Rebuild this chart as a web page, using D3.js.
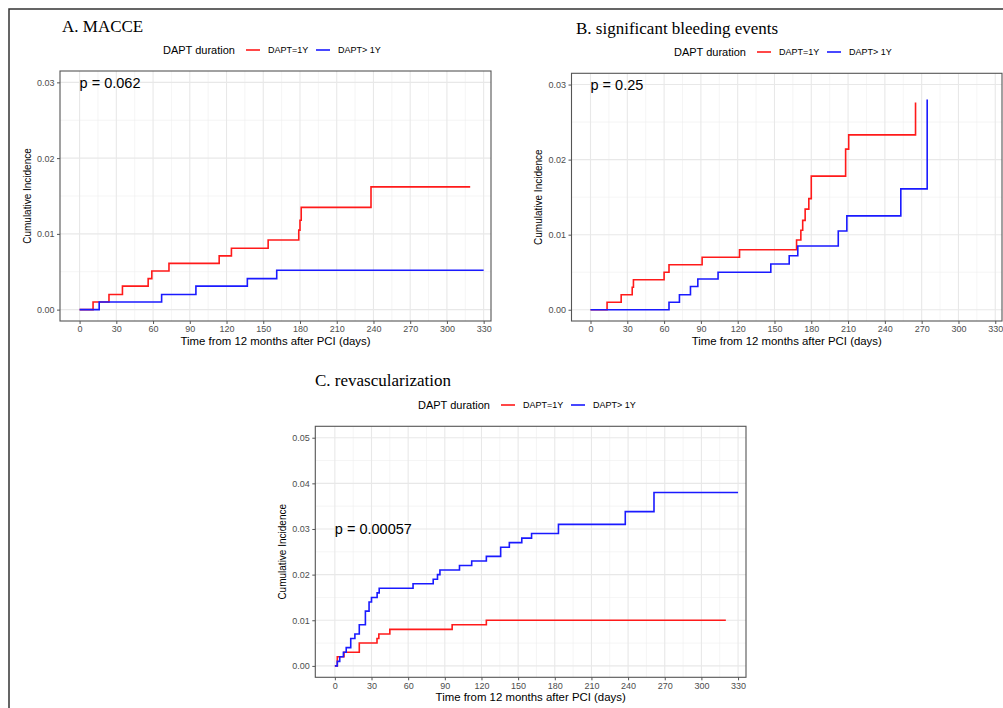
<!DOCTYPE html>
<html lang="en">
<head>
  <meta charset="utf-8">
  <title>Cumulative incidence by DAPT duration</title>
  <script src="https://d3js.org/d3.v7.min.js"></script>
  <style>
    html, body { margin: 0; padding: 0; background: #fff; }
    svg { display: block; }
    text { font-family: "Liberation Sans", Arial, sans-serif; fill: #000; }
    .title { font-family: "Liberation Serif", "Times New Roman", serif; font-size: 17px; }
    .tick-label { fill: #4d4d4d; font-size: 9px; }
  </style>
</head>
<body>
  <svg width="1003" height="708"></svg>
  <script>
    // legend groups and tick labels
    const groups = ["DAPT=1Y", "DAPT> 1Y"];
    const groupColors = ["#ff1a1a", "#1a1aff"];
    const dayTicks = [0, 30, 60, 90, 120, 150, 180, 210, 240, 270, 300, 330];
    const incTicksAB = [0, 0.01, 0.02, 0.03];
    const incTicksC = [0, 0.01, 0.02, 0.03, 0.04, 0.05];

    // A. MACCE
    const macceDays1 = [0, 11, 24, 35, 56, 59, 73, 114, 124, 154, 179, 180, 181, 238, 319];
    const macceInc1  = [0, 0.001, 0.002, 0.0031, 0.0041, 0.0051, 0.0061, 0.0071, 0.0081, 0.0092, 0.0105, 0.0118, 0.0135, 0.0162, 0.0162];
    const macceDays2 = [0, 16, 67, 95, 137, 161, 330];
    const macceInc2  = [0, 0.001, 0.002, 0.0031, 0.0041, 0.0052, 0.0052];

    // B. significant bleeding events
    const bleedDays1 = [0, 13.5, 25, 34, 35, 60, 64, 91, 121.5, 168, 171.5, 173, 175, 178, 180, 208, 210.5, 265];
    const bleedInc1  = [0, 0.001, 0.002, 0.003, 0.004, 0.005, 0.006, 0.007, 0.008, 0.0093, 0.0106, 0.0119, 0.0134, 0.0148, 0.0178, 0.0214, 0.0233, 0.0276];
    const bleedDays2 = [0, 64, 72.5, 81.5, 87.5, 104, 147, 162, 169, 202, 209, 253, 274.5];
    const bleedInc2  = [0, 0.001, 0.002, 0.0031, 0.0041, 0.005, 0.0061, 0.0072, 0.0085, 0.0105, 0.0125, 0.0161, 0.028];

    // C. revascularization
    const revascDays1 = [0, 2, 7.5, 20, 34.5, 36, 45, 96, 124, 320];
    const revascInc1  = [0, 0.002, 0.003, 0.005, 0.006, 0.007, 0.008, 0.009, 0.010, 0.010];
    const revascDays2 = [0, 2, 4, 7, 9.3, 13, 16.4, 20, 25, 28, 30, 34.6, 36.3, 64, 80.5, 84, 86, 102, 112, 124, 135.7, 142.8, 153, 161, 183, 237.7, 261.2, 330];
    const revascInc2  = [0, 0.001, 0.002, 0.003, 0.004, 0.006, 0.007, 0.009, 0.012, 0.014, 0.015, 0.016, 0.017, 0.018, 0.019, 0.020, 0.021, 0.022, 0.023, 0.024, 0.026, 0.027, 0.028, 0.029, 0.031, 0.0338, 0.038, 0.038];

    const svg = d3.select("svg");

    // outer frame of the figure
    svg.append("rect")
      .attr("x", 9).attr("y", 9).attr("width", 1100).attr("height", 800)
      .attr("fill", "none").attr("stroke", "#333").attr("stroke-width", 1.5);

    const panels = [
      { title: "A. MACCE", titleX: 62, titleY: 32, legX: 163, legY: 50,
        left: 60, right: 491, top: 71, bottom: 321,
        xDomain: [-16, 336], yDomain: [-0.0015, 0.0315], yTicks: incTicksAB,
        pText: "p = 0.062", pAt: 0.03,
        series: [[macceDays1, macceInc1], [macceDays2, macceInc2]] },
      { title: "B. significant bleeding events", titleX: 576, titleY: 34, legX: 674, legY: 52,
        left: 571.5, right: 1002, top: 73.3, bottom: 321,
        xDomain: [-15.5, 335.5], yDomain: [-0.0015, 0.0315], yTicks: incTicksAB,
        pText: "p = 0.25", pAt: 0.03,
        series: [[bleedDays1, bleedInc1], [bleedDays2, bleedInc2]] },
      { title: "C. revascularization", titleX: 315, titleY: 386, legX: 418, legY: 405,
        left: 315.3, right: 746, top: 426.3, bottom: 677.3,
        xDomain: [-16, 336.5], yDomain: [-0.0025, 0.0525], yTicks: incTicksC,
        pText: "p = 0.00057", pAt: 0.03,
        series: [[revascDays1, revascInc1], [revascDays2, revascInc2]] }
    ];

    const fmt = d3.format(".2f");

    panels.forEach(p => {
      const g = svg.append("g");
      const x = d3.scaleLinear().domain(p.xDomain).range([p.left, p.right]);
      const y = d3.scaleLinear().domain(p.yDomain).range([p.bottom, p.top]);

      // title
      g.append("text").attr("class", "title")
        .attr("x", p.titleX).attr("y", p.titleY).text(p.title);

      // legend
      const leg = g.append("g").attr("transform", `translate(${p.legX},${p.legY})`);
      leg.append("text").attr("dy", "0.35em").style("font-size", "11px").text("DAPT duration");
      groups.forEach((name, i) => {
        const off = i * 70;
        leg.append("line")
          .attr("x1", 83 + off).attr("x2", 97 + off).attr("y1", 0).attr("y2", 0)
          .attr("stroke", groupColors[i]).attr("stroke-width", 1.6);
        leg.append("text").attr("x", 105 + off).attr("dy", "0.35em")
          .style("font-size", "9px").text(name);
      });

      // grid
      const xMinor = dayTicks.map(d => d + 15).filter(d => d < p.xDomain[1]);
      const yMinor = p.yTicks.map(d => d + 0.005).filter(d => d < p.yDomain[1]);
      g.append("rect")
        .attr("x", p.left).attr("y", p.top)
        .attr("width", p.right - p.left).attr("height", p.bottom - p.top)
        .attr("fill", "#fff");
      g.selectAll(".xminor").data(xMinor).join("line")
        .attr("x1", d => x(d)).attr("x2", d => x(d)).attr("y1", p.top).attr("y2", p.bottom)
        .attr("stroke", "#efefef").attr("stroke-width", 0.6);
      g.selectAll(".yminor").data(yMinor).join("line")
        .attr("y1", d => y(d)).attr("y2", d => y(d)).attr("x1", p.left).attr("x2", p.right)
        .attr("stroke", "#efefef").attr("stroke-width", 0.6);
      g.selectAll(".xmajor").data(dayTicks).join("line")
        .attr("x1", d => x(d)).attr("x2", d => x(d)).attr("y1", p.top).attr("y2", p.bottom)
        .attr("stroke", "#e8e8e8").attr("stroke-width", 1.1);
      g.selectAll(".ymajor").data(p.yTicks).join("line")
        .attr("y1", d => y(d)).attr("y2", d => y(d)).attr("x1", p.left).attr("x2", p.right)
        .attr("stroke", "#e8e8e8").attr("stroke-width", 1.1);

      // curves
      const line = d3.line()
        .x(d => x(d[0])).y(d => y(d[1]))
        .curve(d3.curveStepAfter);
      p.series.forEach((s, i) => {
        const pts = s[0].map((t, k) => [t, s[1][k]]);
        g.append("path").datum(pts)
          .attr("d", line)
          .attr("fill", "none")
          .attr("stroke", groupColors[i])
          .attr("stroke-width", 1.6);
      });

      // p value annotation
      g.append("text")
        .attr("x", x(0)).attr("y", y(p.pAt)).attr("dy", "0.37em")
        .style("font-size", "14.5px").text(p.pText);

      // panel border
      g.append("rect")
        .attr("x", p.left).attr("y", p.top)
        .attr("width", p.right - p.left).attr("height", p.bottom - p.top)
        .attr("fill", "none").attr("stroke", "#555").attr("stroke-width", 1.1);

      // axes
      const xAxis = d3.axisBottom(x).tickValues(dayTicks).tickSize(3).tickPadding(2);
      const yAxis = d3.axisLeft(y).tickValues(p.yTicks).tickFormat(fmt).tickSize(3).tickPadding(2.5);
      const gx = g.append("g").attr("transform", `translate(0,${p.bottom})`).call(xAxis);
      const gy = g.append("g").attr("transform", `translate(${p.left},0)`).call(yAxis);
      [gx, gy].forEach(a => {
        a.select(".domain").remove();
        a.selectAll(".tick line").attr("stroke", "#555");
        a.selectAll(".tick text").attr("class", "tick-label").attr("fill", "#4d4d4d")
          .style("font-family", '"Liberation Sans", Arial, sans-serif');
      });

      // axis titles
      g.append("text")
        .attr("x", (p.left + p.right) / 2).attr("y", p.bottom + 24)
        .attr("text-anchor", "middle").style("font-size", "11.4px")
        .text("Time from 12 months after PCI (days)");
      g.append("text")
        .attr("transform", `translate(${p.left - 33},${(p.top + p.bottom) / 2}) rotate(-90)`)
        .attr("text-anchor", "middle").attr("dy", "0.35em").style("font-size", "10px")
        .text("Cumulative Incidence");
    });
  </script>
</body>
</html>
